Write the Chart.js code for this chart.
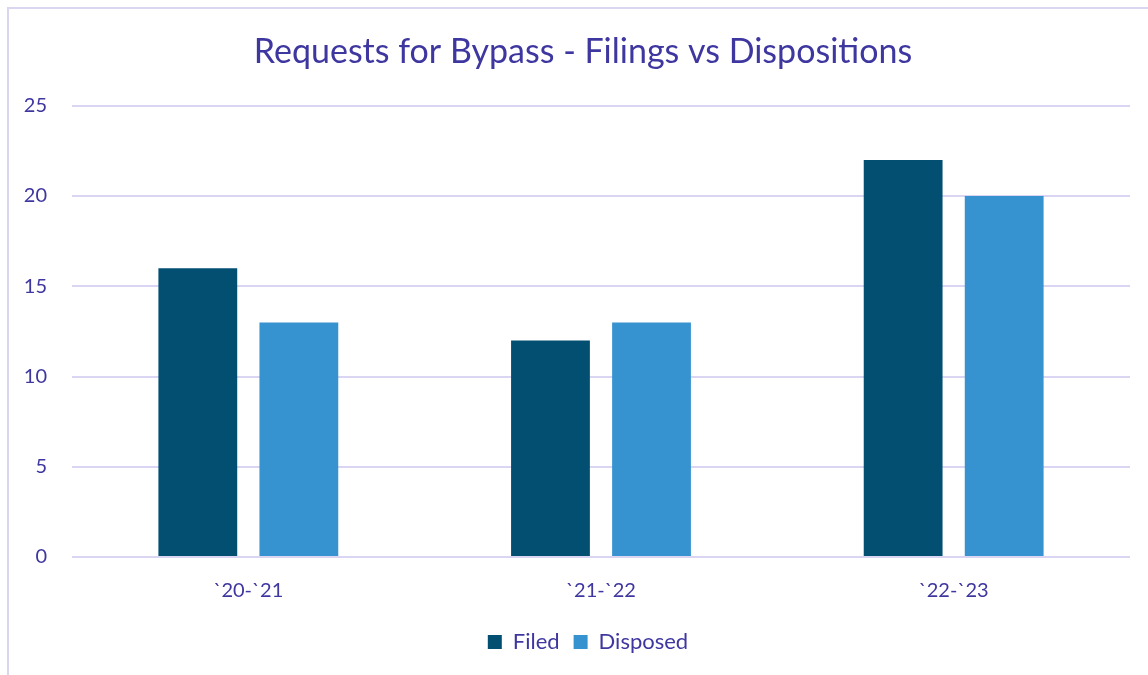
<!DOCTYPE html>
<html>
<head>
<meta charset="utf-8">
<script src="https://cdn.jsdelivr.net/npm/chart.js@4/dist/chart.umd.min.js"></script>
<style>
  html, body { margin: 0; padding: 0; background: #fff; }
  .frame {
    position: absolute; left: 7px; top: 7px; width: 1160px; height: 700px;
    border-left: 2px solid #DAD6F2; border-top: 2px solid #DAD6F2;
  }
  #chart { position: absolute; left: 0; top: 0; }
</style>
</head>
<body>
<div class="frame"></div>
<canvas id="chart" width="1148" height="675"></canvas>
<script>
'use strict';
const categories = ['`20-`21', '`21-`22', '`22-`23'];
const filed = [16, 12, 22];
const disposed = [13, 13, 20];
const yTicks = [0, 5, 10, 15, 20, 25];

const textColor = '#3F37A0';
const gridColor = '#D9D5F2';
const fontName = 'Lato, "Open Sans", sans-serif';

const ctx = document.getElementById('chart').getContext('2d');

// title and legend sit a bit right of the canvas middle, like the original
const shiftBlocks = {
  id: 'shiftBlocks',
  afterLayout: function(chart){
    chart.titleBlock.left = 36;
    chart.legend.left = 46;
  }
};

new Chart(ctx, {
  type: 'bar',
  data: {
    labels: categories,
    datasets: [{
      label: 'Filed',
      data: filed,
      backgroundColor: '#034F72',
      barPercentage: 0.78,
      categoryPercentage: 0.573
    }, {
      label: 'Disposed',
      data: disposed,
      backgroundColor: '#3793D0',
      barPercentage: 0.78,
      categoryPercentage: 0.573
    }]
  },
  plugins: [shiftBlocks],
  options: {
    responsive: false,
    animation: false,
    layout: { padding: { left: 0, right: 18, top: 16, bottom: 12 } },
    plugins: {
      title: {
        display: true,
        text: 'Requests for Bypass - Filings vs Dispositions',
        color: textColor,
        font: { family: fontName, size: 34, weight: 'normal' },
        padding: { top: 16, bottom: 33 }
      },
      legend: {
        position: 'bottom',
        labels: {
          color: textColor,
          font: { family: fontName, size: 22 },
          boxWidth: 14,
          boxHeight: 14,
          padding: 14
        }
      },
      tooltip: { enabled: false }
    },
    scales: {
      x: {
        grid: { display: false },
        border: { display: false },
        ticks: { color: textColor, font: { family: fontName, size: 20 }, padding: 14 }
      },
      y: {
        min: 0,
        max: 25,
        afterFit: function(axis){ axis.width = 72; },
        afterBuildTicks: function(axis){ axis.ticks = yTicks.map(v => ({ value: v })); },
        grid: { color: gridColor, lineWidth: 2, drawTicks: false },
        border: { display: false },
        ticks: { color: textColor, font: { family: fontName, size: 20 }, padding: 25 }
      }
    }
  }
});
</script>
</body>
</html>
